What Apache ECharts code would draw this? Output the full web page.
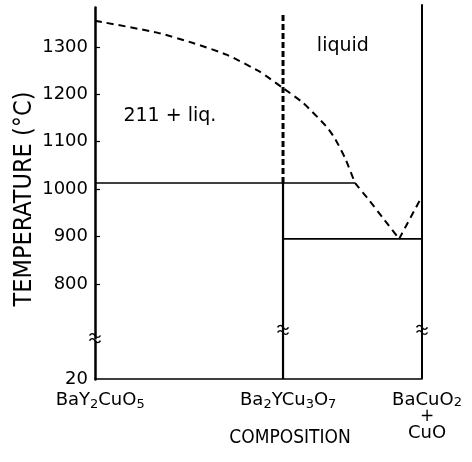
<!DOCTYPE html>
<html>
<head>
<meta charset="utf-8">
<title>BaY2CuO5 - BaCuO2+CuO</title>
<script src="https://cdn.jsdelivr.net/npm/echarts@6/dist/echarts.min.js"></script>
<style>
    html, body {margin: 0; padding: 0; background: #fff;}
    #main {width: 472px; height: 462px;}
</style>
</head>
<body>
<div id="main"></div>
<script>
// temperature axis
var tempTicks = [20, 800, 900, 1000, 1100, 1200, 1300];
var tickMarks = [800, 900, 1000, 1100, 1200, 1300];
var tMin = 20, tMax = 1384;

// composition axis (0 = BaY2CuO5, 1 = BaCuO2 + CuO)
var compPos = [0, 0.575, 1];
var compNames = ['BaY2CuO5', 'Ba2YCu3O7', 'BaCuO2\n+\nCuO'];

// liquidus, 211 field
var liqX1 = [0, 0.19, 0.30, 0.404, 0.505, 0.575, 0.636, 0.709, 0.735, 0.765, 0.795];
var liqT1 = [1355, 1330, 1308, 1283, 1247, 1213, 1182, 1131, 1105, 1065, 1013];
// liquidus, 123 field down to eutectic
var liqX2 = [0.795, 0.84, 0.885, 0.93];
var liqT2 = [1013, 975, 935, 895];
// liquidus, right branch
var liqX3 = [0.93, 1];
var liqT3 = [895, 985];

var x123 = 0.575;
var top123 = 1367;   // top of dashed 123 line
var periT = 1013;    // peritectic
var periX = 0.795;
var eutT = 895;      // eutectic
var rightTop = 1390; // right line runs a bit above the frame

// field labels
var fieldNames = ['211 + liq.', 'liquid'];
var fieldX = [0.229, 0.758];
var fieldT = [1154, 1302];

// break marks on the verticals
var breakX = [0, 0.575, 1];
var breakT = [686, 703, 703];

function zip(xs, ys) {
    var out = [];
    for (var i = 0; i < xs.length; i++) {
        out.push([xs[i], ys[i]]);
    }
    return out;
}

//化学式: 数字作下标
function formula(str, spacer) {
    var out = spacer ? '{h| }' : '';
    var parts = str.match(/[0-9]+|[^0-9]+/g);
    for (var i = 0; i < parts.length; i++) {
        out += (/[0-9]/.test(parts[i]) ? '{s|' : '{n|') + parts[i] + '}';
    }
    return out;
}

function compLabel(name) {
    var lines = name.split('\n');
    if (lines.length == 1) return formula(lines[0], true);
    return formula(lines[0], false) + '\n{p|' + lines[1] + '}\n{c|' + lines[2] + '}';
}

var myChart = echarts.init(document.getElementById('main'));

var solid = {color: '#000', width: 1.6};
var dashed = {color: '#000', width: 2, type: [7, 5]};
var font = 'DejaVu Sans';

myChart.setOption({
    animation: false,
    backgroundColor: '#fff',
    grid: {left: 95, right: 50, top: 7, bottom: 83, outerBoundsMode: 'none'},
    xAxis: {
        type: 'value',
        min: 0,
        max: 1,
        name: 'COMPOSITION',
        nameLocation: 'middle',
        nameGap: 50,
        nameMoveOverlap: false,
        nameTextStyle: {
            fontFamily: 'DejaVu Sans Condensed',
            fontSize: 19,
            color: '#000',
            padding: [0, 0, 0, 63]
        },
        axisLine: {show: true, lineStyle: {color: '#000', width: 1.6}},
        axisTick: {show: false},
        splitLine: {show: false},
        axisLabel: {
            customValues: compPos,
            margin: 12,
            color: '#000',
            padding: [0, 0, 0, 10],
            formatter: function (v) {
                for (var i = 0; i < compPos.length; i++) {
                    if (Math.abs(compPos[i] - v) < 1e-6) return compLabel(compNames[i]);
                }
                return '';
            },
            rich: {
                n: {fontFamily: font, fontSize: 18, lineHeight: 18, verticalAlign: 'top', color: '#000'},
                s: {fontFamily: font, fontSize: 13, lineHeight: 10, verticalAlign: 'bottom', color: '#000'},
                h: {fontFamily: font, fontSize: 1, lineHeight: 20},
                p: {fontFamily: font, fontSize: 17, lineHeight: 16, color: '#000'},
                c: {fontFamily: font, fontSize: 18, lineHeight: 16, color: '#000'}
            }
        }
    },
    yAxis: {
        type: 'value',
        min: tMin,
        max: tMax,
        breaks: [{start: 100, end: 685, gap: 5.4}],
        breakArea: {
            show: false,
            itemStyle: {opacity: 0}
        },
        name: 'TEMPERATURE (°C)',
        nameLocation: 'middle',
        nameGap: 58,
        nameMoveOverlap: false,
        nameTextStyle: {
            fontFamily: 'DejaVu Sans Condensed',
            fontSize: 25,
            color: '#000',
            padding: [0, 12, 0, 0]
        },
        axisLine: {show: true, lineStyle: {color: '#000', width: 2.5}},
        axisTick: {
            show: true,
            inside: true,
            length: 5,
            customValues: tickMarks,
            lineStyle: {color: '#000', width: 1.2}
        },
        splitLine: {show: false},
        axisLabel: {
            customValues: tempTicks,
            margin: 7,
            fontFamily: font,
            fontSize: 18,
            color: '#000',
            formatter: function (v) {
                return String(v);
            }
        }
    },
    series: [
        {//liquidus upper
            type: 'line',
            data: zip(liqX1, liqT1),
            smooth: 0.2,
            symbol: 'none',
            lineStyle: dashed
        },
        {//liquidus below peritectic
            type: 'line',
            data: zip(liqX2, liqT2),
            smooth: 0.2,
            symbol: 'none',
            lineStyle: dashed
        },
        {//liquidus right branch
            type: 'line',
            data: zip(liqX3, liqT3),
            symbol: 'none',
            lineStyle: dashed
        },
        {//123 dashed above peritectic
            type: 'line',
            data: [[x123, periT], [x123, top123]],
            symbol: 'none',
            lineStyle: {color: '#000', width: 3, type: [6, 3]}
        },
        {//123 solid
            type: 'line',
            data: [[x123, tMin], [x123, periT]],
            symbol: 'none',
            lineStyle: {color: '#000', width: 2.2}
        },
        {//peritectic line
            type: 'line',
            data: [[0, periT], [periX, periT]],
            symbol: 'none',
            lineStyle: solid
        },
        {//eutectic line
            type: 'line',
            data: [[x123, eutT], [1, eutT]],
            symbol: 'none',
            lineStyle: solid
        },
        {//right vertical
            type: 'line',
            data: [[1, tMin], [1, rightTop]],
            symbol: 'none',
            clip: false,
            lineStyle: {color: '#000', width: 2}
        },
        {//break marks
            type: 'scatter',
            data: zip(breakX, breakT),
            symbol: 'path://M0,3 C2,0 4,0 6,3 S10,6 12,3 M0,9 C2,6 4,6 6,9 S10,12 12,9',
            symbolSize: [11, 9],
            itemStyle: {color: 'rgba(0,0,0,0)', borderColor: '#000', borderWidth: 1.4, opacity: 1},
            z: 5
        },
        {//field labels
            type: 'scatter',
            data: zip(fieldX, fieldT),
            symbolSize: 0,
            itemStyle: {opacity: 1},
            label: {
                show: true,
                position: 'inside',
                fontFamily: font,
                fontSize: 19,
                color: '#000',
                formatter: function (p) {
                    return fieldNames[p.dataIndex];
                }
            }
        }
    ]
});
</script>
</body>
</html>
